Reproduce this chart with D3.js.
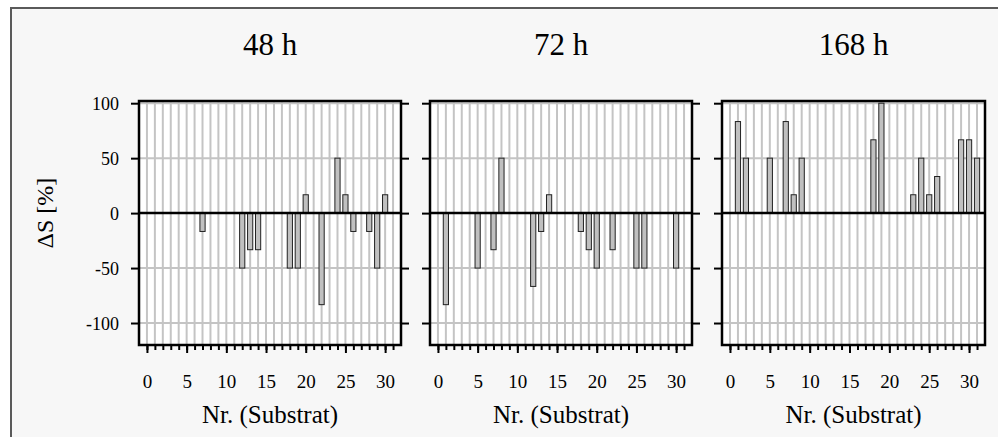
<!DOCTYPE html>
<html><head><meta charset="utf-8">
<script src="https://cdn.jsdelivr.net/npm/d3@7"></script>
<style>
html,body{margin:0;padding:0;background:#ffffff;}
svg{display:block;}
</style></head>
<body>
<svg id="chart" width="998" height="437"></svg>
<script>
const panelTitles = ["48 h", "72 h", "168 h"];
const xTicks = [0, 5, 10, 15, 20, 25, 30];
const yTicks = [-100, -50, 0, 50, 100];
const xLabel = "Nr. (Substrat)";
const yLabel = "ΔS [%]";

const s48 = [
  {nr: 7, v: -16.7}, {nr: 12, v: -50}, {nr: 13, v: -33.3}, {nr: 14, v: -33.3},
  {nr: 18, v: -50}, {nr: 19, v: -50}, {nr: 20, v: 16.7}, {nr: 22, v: -83.3},
  {nr: 24, v: 50}, {nr: 25, v: 16.7}, {nr: 26, v: -16.7}, {nr: 28, v: -16.7},
  {nr: 29, v: -50}, {nr: 30, v: 16.7}
];
const s72 = [
  {nr: 1, v: -83.3}, {nr: 5, v: -50}, {nr: 7, v: -33.3}, {nr: 8, v: 50},
  {nr: 12, v: -66.7}, {nr: 13, v: -16.7}, {nr: 14, v: 16.7}, {nr: 18, v: -16.7},
  {nr: 19, v: -33.3}, {nr: 20, v: -50}, {nr: 22, v: -33.3}, {nr: 25, v: -50},
  {nr: 26, v: -50}, {nr: 30, v: -50}
];
const s168 = [
  {nr: 1, v: 83.3}, {nr: 2, v: 50}, {nr: 5, v: 50}, {nr: 7, v: 83.3},
  {nr: 8, v: 16.7}, {nr: 9, v: 50}, {nr: 18, v: 66.7}, {nr: 19, v: 100},
  {nr: 23, v: 16.7}, {nr: 24, v: 50}, {nr: 25, v: 16.7}, {nr: 26, v: 33.3},
  {nr: 29, v: 66.7}, {nr: 30, v: 66.7}, {nr: 31, v: 50}
];
const seriesList = [s48, s72, s168];

(function () {
const FONT = "'Liberation Serif', 'Times New Roman', serif";
const svg = d3.select("#chart");
svg.append("rect").attr("x", 11).attr("y", 8).attr("width", 1000).attr("height", 440)
  .attr("fill", "#f7f7f7").attr("stroke", "#5a5a5a").attr("stroke-width", 2);

const panelX = [[139, 401], [430, 692], [722, 985]];
const pTop = 101, pBottom = 345;
const y = d3.scaleLinear().domain([-120, 102]).range([pBottom, pTop]);
const fmt = d => String(d);

function addText(parent, x, yy, str, size, anchor, rot) {
  return parent.append("text")
    .attr("transform", `translate(${x},${yy})` + (rot ? ` rotate(${rot})` : ""))
    .attr("text-anchor", anchor).attr("font-family", FONT).attr("font-size", size)
    .attr("fill", "#000").text(str);
}

panelX.forEach((px, i) => {
  const x = d3.scaleLinear().domain([-1, 32]).range(px);
  const g = svg.append("g");
  const w = px[1] - px[0];
  g.append("rect").attr("x", px[0]).attr("y", pTop).attr("width", w).attr("height", pBottom - pTop)
    .attr("fill", "#ffffff");
  g.append("g").selectAll("line").data(d3.range(0, 32)).join("line")
    .attr("x1", d => x(d)).attr("x2", d => x(d)).attr("y1", pTop).attr("y2", pBottom)
    .attr("stroke", "#c4c4c4").attr("stroke-width", 2);
  g.append("g").selectAll("line").data(yTicks.filter(d => d !== 0)).join("line")
    .attr("x1", px[0]).attr("x2", px[1]).attr("y1", d => y(d)).attr("y2", d => y(d))
    .attr("stroke", "#c4c4c4").attr("stroke-width", 2);
  const bw = 5.2;
  g.append("g").selectAll("rect").data(seriesList[i]).join("rect")
    .attr("x", d => x(d.nr) - bw / 2).attr("width", bw)
    .attr("y", d => y(Math.max(0, d.v))).attr("height", d => Math.abs(y(d.v) - y(0)))
    .attr("fill", "#c0c0c0").attr("stroke", "#222").attr("stroke-width", 1);
  g.append("line").attr("x1", px[0]).attr("x2", px[1]).attr("y1", y(0)).attr("y2", y(0))
    .attr("stroke", "#000").attr("stroke-width", 2.5);
  g.append("rect").attr("x", px[0]).attr("y", pTop).attr("width", w).attr("height", pBottom - pTop)
    .attr("fill", "none").attr("stroke", "#000").attr("stroke-width", 2.5);

  const xAxisMinor = d3.axisBottom(x).tickValues(d3.range(0, 32)).tickSize(5).tickFormat("");
  const gx = g.append("g").attr("transform", `translate(0,${pBottom})`).call(xAxisMinor);
  gx.select(".domain").remove();
  gx.selectAll("line").attr("stroke", "#000").attr("stroke-width", 2);
  const xAxisMajor = d3.axisBottom(x).tickValues(xTicks).tickSize(8).tickFormat("");
  const gx2 = g.append("g").attr("transform", `translate(0,${pBottom})`).call(xAxisMajor);
  gx2.select(".domain").remove();
  gx2.selectAll("line").attr("stroke", "#000").attr("stroke-width", 2);
  gx2.selectAll(".tick").each(function (d) {
    addText(d3.select(this), 0, 43, fmt(d), 19, "middle");
  });

  const yl = d3.axisLeft(y).tickValues(yTicks).tickSize(8).tickFormat("");
  const gy = g.append("g").attr("transform", `translate(${px[0]},0)`).call(yl);
  gy.select(".domain").remove();
  gy.selectAll("line").attr("stroke", "#000").attr("stroke-width", 2);
  if (i === 0) {
    gy.selectAll(".tick").each(function (d) {
      addText(d3.select(this), -20, 6.5, fmt(d), 18, "end");
    });
  }
  if (i < 2) {
    const yr = d3.axisRight(y).tickValues(yTicks).tickSize(8).tickFormat("");
    const gyr = g.append("g").attr("transform", `translate(${px[1]},0)`).call(yr);
    gyr.select(".domain").remove();
    gyr.selectAll("line").attr("stroke", "#000").attr("stroke-width", 2);
  }

  addText(g, (px[0] + px[1]) / 2, 55, panelTitles[i], 31, "middle");
  addText(g, (px[0] + px[1]) / 2, 423, xLabel, 25, "middle");
});

addText(svg, 53, y(0), yLabel, 24, "middle", -90);
})();
</script>
</body></html>
